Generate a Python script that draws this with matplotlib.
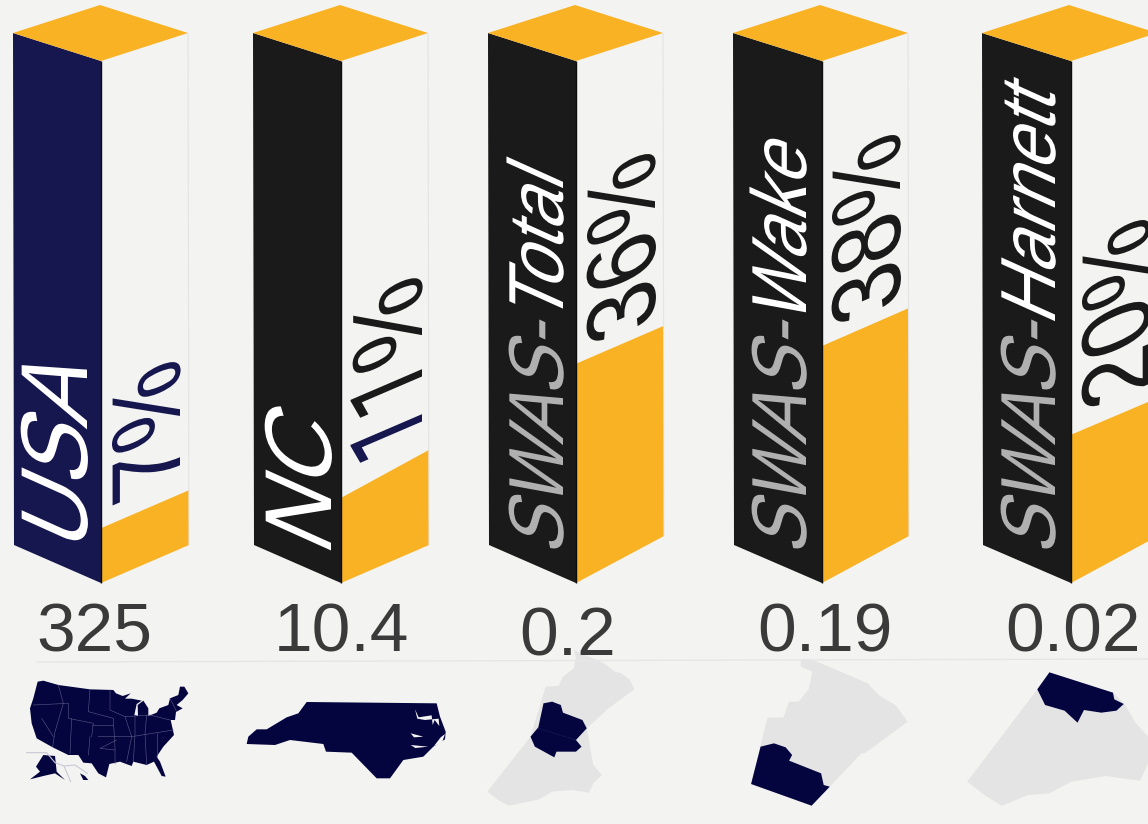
import matplotlib
matplotlib.use("Agg")
import matplotlib.pyplot as plt
from matplotlib.font_manager import FontProperties
from matplotlib.path import Path
from matplotlib.patches import Polygon
from matplotlib.text import Text
from matplotlib.textpath import TextPath
from matplotlib.transforms import Affine2D, Bbox

BG = '#f3f3f1'
NAVY = '#17174f'
BLACK = '#1a1a1a'
ORANGE = '#f9b224'
MAP_NAVY = '#04043f'
MAP_GREY = '#e4e4e4'
GREY_TXT = '#b0b0b0'

# values
populations = ['325', '10.4', '0.2', '0.19', '0.02']
# part of the front edge covered by the orange fill
fill_frac = [0.105, 0.163, 0.42, 0.454, 0.284]

# bar geometry in picture pixels
bar_left = [13, 253, 488, 733, 982]
bar_mid = [101, 341, 576, 822, 1071]
bar_right = [188, 428, 663, 908, 1157]
bar_apex = [100, 340, 575, 820, 1069]
right_drop = [545, 545, 536, 536, 536]
fill_rise = [38, 48, 38, 38, 37]
bar_colors = [NAVY, BLACK, BLACK, BLACK, BLACK]
pop_x = [94, 341, 568, 825, 1073]
pop_y = [652, 652, 655, 652, 652]

TOP, SHOULDER, MID_TOP, LEFT_BOT, MID_BOT = 5, 33, 61, 545, 583

# map outlines, traced in crop pixels
usa = [(113,125),(130,122),(175,135),(270,148),(340,150),(348,160),(368,168),(392,160),(375,176),(395,176),(425,182),(410,192),(403,225),(414,228),(413,195),(430,182),(445,205),(445,228),(470,218),(478,205),(505,195),(510,175),(535,165),(540,140),(553,140),(565,160),(548,180),(530,195),(548,205),(528,216),(525,240),(512,240),(522,285),(490,320),(470,350),(480,365),(497,410),(485,408),(462,365),(440,375),(400,365),(395,378),(360,365),(328,372),(318,412),(295,400),(275,370),(250,368),(235,345),(205,345),(158,322),(110,295),(95,250),(90,205),(100,175)]
alaska = [(108,380),(130,345),(165,348),(170,395),(195,420),(165,400),(130,408),(90,418),(120,395)]
hawaii = [(240,400),(255,408),(265,420),(250,420)]
usa_lines = [[(175,135),(190,190),(165,275),(158,320)],[(100,195),(205,190),(205,235),(280,250),(275,290)],[(125,235),(160,290)],[(270,148),(265,215),(340,235),(345,325),(345,372)],[(330,150),(330,210),(375,230),(395,290),(380,365)],[(215,235),(210,340)],[(275,255),(340,255)],[(270,290),(265,345)],[(295,290),(395,290),(520,270)],[(375,230),(450,225),(510,240)],[(405,225),(405,285),(400,365)],[(440,225),(435,280),(440,375)],[(350,300),(300,325),(345,330)],[(470,280),(470,350)],[(510,175),(530,215)]]
inset_lines = [[(80,338),(140,338),(165,368),(192,378),(212,425)],[(192,378),(225,375),(262,400)]]
nc = [(920,186),(1310,190),(1320,230),(1337,275),(1335,298),(1300,320),(1270,350),(1210,360),(1170,415),(1130,415),(1055,338),(978,335),(970,312),(870,300),(825,315),(740,312),(745,290),(770,268),(800,268),(860,232),(895,220)]
nc_cuts = [[(1245,208),(1256,232),(1295,226),(1298,255),(1304,240),(1318,258),(1316,236),(1275,240),(1252,236)],[(1232,280),(1270,290),(1242,292)],[(1232,315),(1285,320),(1246,324)],[(1335,282),(1326,308),(1302,318),(1322,292)]]
wake_grey = [(240,30),(310,70),(335,95),(350,100),(370,120),(380,148),(320,205),(270,265),(285,375),(305,405),(285,430),(275,458),(235,450),(190,455),(160,478),(90,497),(65,480),(40,455),(140,290),(175,140),(205,138),(215,110),(240,85),(245,55)]
wake_navy = [(170,190),(190,185),(210,195),(215,218),(260,240),(270,265),(245,300),(258,320),(245,335),(200,335),(195,352),(150,320),(140,290),(158,262)]
map4_grey = [(765,58),(790,58),(920,130),(945,165),(985,197),(1012,245),(915,338),(905,340),(832,440),(790,497),(650,432),(688,233),(725,232),(738,185),(760,185),(783,148),(792,95),(765,80)]
map4_navy = [(672,320),(703,310),(730,322),(745,345),(738,362),(812,400),(818,435),(832,440),(790,497),(650,432)]
map5_grey = [(1340,97),(1487,158),(1515,195),(1540,250),(1568,290),(1568,370),(1550,422),(1470,408),(1390,425),(1340,460),(1290,465),(1230,497),(1195,470),(1150,425),(1312,148)]
map5_navy = [(1340,97),(1487,158),(1490,178),(1512,192),(1495,212),(1460,218),(1420,210),(1405,248),(1375,212),(1330,195),(1312,148)]

FONT = FontProperties(family='Liberation Sans', size=100)
FONT_ONE = FontProperties(family='Roboto', size=100)


def advance(s, font):
    # where the text after s starts, from the right edge of a trailing H
    with_h = TextPath((0, 0), s + 'H', prop=font).vertices[:, 0].max()
    return with_h - TextPath((0, 0), 'H', prop=font).vertices[:, 0].max()


class FaceText(Text):
    # real text, drawn sheared so it lies on a side of the box
    def __init__(self, x, y, s, em, along, shear, prefix='', font=FONT, **kw):
        super().__init__(x, y, s, **kw)
        self.em, self.along, self.shear, self.prefix, self.font = em, along, shear, prefix, font

    def _face_path(self):
        px, py = self.get_transform().transform((self._x, self._y))
        k = self.get_figure().dpi / 100 * self.em / 100
        m = Affine2D.from_values(0, self.along * k, -k, self.shear * k, px, py)
        start = advance(self.prefix, FONT) if self.prefix else 0
        tp = TextPath((start, 0), self.get_text(), prop=self.font)
        return Path(tp.vertices.copy(), tp.codes.copy()), m

    def draw(self, renderer):
        path, m = self._face_path()
        gc = renderer.new_gc()
        gc.set_linewidth(0)
        gc.set_clip_rectangle(self.axes.bbox)
        renderer.draw_path(gc, path, m, matplotlib.colors.to_rgb(self.get_color()))
        gc.restore()

    def get_window_extent(self, renderer=None, dpi=None):
        path, m = self._face_path()
        ext = path.transformed(m).get_extents()
        return Bbox.intersection(ext, self.axes.bbox) or ext


def from_crop(pts, ox, oy, sx=3):
    return [(ox + px / sx, oy + py / 3) for px, py in pts]


fig = plt.figure(figsize=(11.48, 8.24), dpi=100, facecolor=BG)
ax = fig.add_axes([0, 0, 1, 1])
ax.set_xlim(0, 1148)
ax.set_ylim(824, 0)
ax.axis('off')


def poly(pts, color):
    ax.add_patch(Polygon(pts, closed=True, facecolor=color, edgecolor='none'))


def face_text(x, y, s, em, along, shear, color, prefix='', font=FONT):
    ax.add_artist(FaceText(x, y, s, em, along, shear, prefix=prefix, font=font, color=color,
                           transform=ax.transData))


for i in range(5):
    l, m, r, a = bar_left[i], bar_mid[i], bar_right[i], bar_apex[i]
    rd = right_drop[i]
    poly([(l, SHOULDER), (m, MID_TOP), (m, MID_BOT), (l + 1, LEFT_BOT)], bar_colors[i])
    ax.plot([r, r + 1], [SHOULDER, rd], color='#e4e4e4', lw=0.8)
    poly([(l, SHOULDER), (a, TOP), (r, SHOULDER), (m, MID_TOP)], ORANGE)
    fy = MID_BOT - fill_frac[i] * (MID_BOT - MID_TOP)
    poly([(m, fy), (r + 1, fy - fill_rise[i]), (r + 1, rd), (m, MID_BOT)], ORANGE)
    ax.plot([m, m], [MID_TOP, MID_BOT], color='#0c0c0c', lw=1.0, solid_capstyle='butt')
    ax.text(pop_x[i], pop_y[i], populations[i], ha='center', va='baseline', fontsize=50,
            family='Liberation Sans', color='#3a3a3a', zorder=6)

# box labels
face_text(87, 555, 'USA', 95, 0.95, 0.45, 'white')
face_text(331, 558, 'NC', 95, 0.97, 0.45, 'white')
face_text(563, 557, 'SWAS-', 78, 0.91, 0.45, GREY_TXT)
face_text(563, 557, 'Total', 78, 0.91, 0.45, 'white', prefix='SWAS-')
face_text(806, 557, 'SWAS-', 78, 0.91, 0.45, GREY_TXT)
face_text(806, 557, 'Wake', 78, 0.91, 0.45, 'white', prefix='SWAS-')
face_text(1055, 557, 'SWAS-', 78, 0.91, 0.45, GREY_TXT)
face_text(1055, 557, 'Harnett', 78, 0.91, 0.45, 'white', prefix='SWAS-')

# percentages
face_text(180, 481, '7%', 98, 0.9, -0.43, NAVY)
face_text(422, 443, '1', 100, 0.81, -0.43, NAVY, font=FONT_ONE)
face_text(422, 398, '1', 100, 0.81, -0.43, BLACK, font=FONT_ONE)
face_text(422, 352, '%', 100, 0.93, -0.43, BLACK)
face_text(655, 322, '36%', 98, 0.9, -0.43, BLACK)
face_text(900, 303, '38%', 98, 0.9, -0.43, BLACK)
face_text(1150, 388, '20%', 98, 0.9, -0.43, BLACK)

# rule above the maps
ax.plot([37, 1148], [662, 659], color='#e6e6e6', lw=1.0)

# maps
OY = 640
OX2 = 470
SX2 = 1568 / 678
poly(from_crop(usa, 0, OY), MAP_NAVY)
poly(from_crop(alaska, 0, OY), MAP_NAVY)
poly(from_crop(hawaii, 0, OY), MAP_NAVY)
for line in usa_lines:
    ax.plot(*zip(*from_crop(line, 0, OY)), color='#5c5c88', lw=0.4)
for line in inset_lines:
    ax.plot(*zip(*from_crop(line, 0, OY)), color='#c9c9d6', lw=0.8)
poly(from_crop(nc, 0, OY), MAP_NAVY)
for cut in nc_cuts:
    poly(from_crop(cut, 0, OY), BG)
for grey, navy in [(wake_grey, wake_navy), (map4_grey, map4_navy), (map5_grey, map5_navy)]:
    poly(from_crop(grey, OX2, OY, SX2), MAP_GREY)
    poly(from_crop(navy, OX2, OY, SX2), MAP_NAVY)
ax.plot(*zip(*from_crop([(158, 265), (245, 300)], OX2, OY, SX2)), color='#3a3a70', lw=0.5, ls=':')

fig.savefig('out.png', dpi=100, facecolor=BG)
